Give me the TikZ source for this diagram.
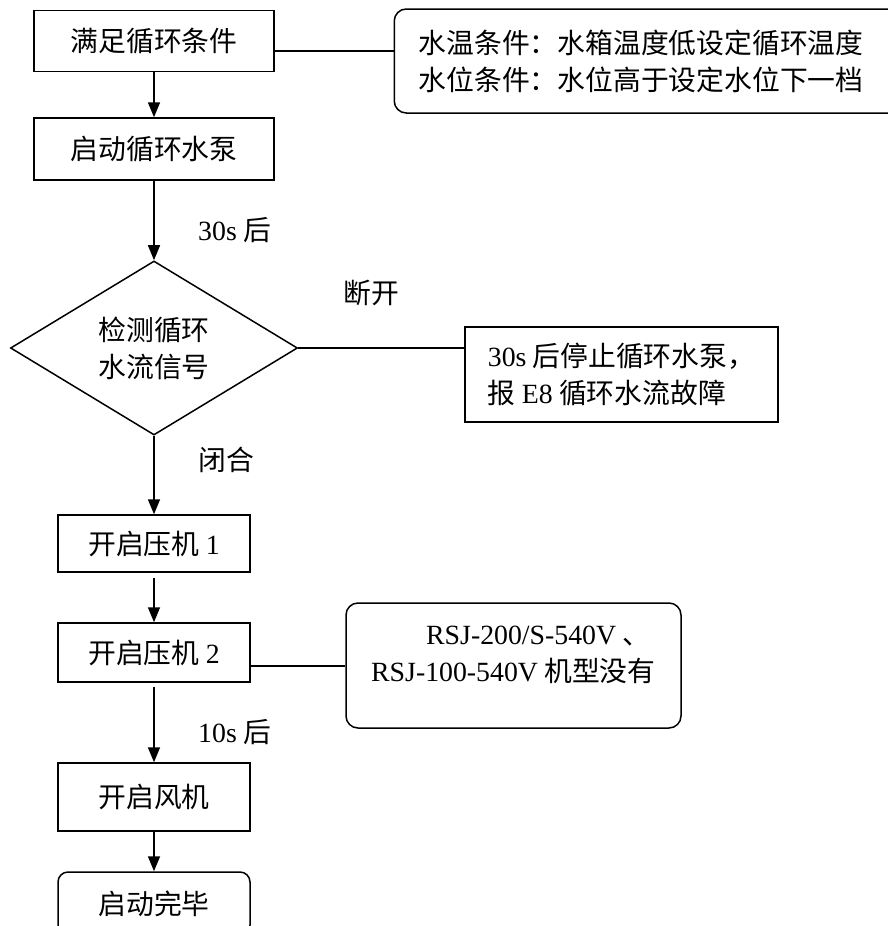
\documentclass[tikz,border=0pt]{standalone}
\usepackage{fontspec}
\setmainfont{Noto Sans CJK SC}
\newfontfamily\lat{Liberation Serif}
\usetikzlibrary{shapes.geometric,arrows.meta}
\begin{document}
\begin{tikzpicture}[x=1pt,y=-1pt,
  font=\fontsize{27.8}{37}\selectfont,
  box/.style={draw,line width=1.5pt,inner sep=0pt},
  rbox/.style={box,rounded corners=12pt},
  arr/.style={-{Triangle[length=15pt,width=12pt]},line width=1.5pt},
  conn/.style={line width=1.5pt},
  lbl/.style={anchor=west,inner sep=0pt}]
\clip (0,0) rectangle (888,926);
\fill[white] (0,0) rectangle (888,926);
% main column
\node[box,minimum width=240pt,minimum height=61pt] (b1) at (154,41) {满足循环条件};
\node[box,minimum width=240pt,minimum height=62pt] (b2) at (154,149) {启动循环水泵};
\node[box,diamond,minimum width=287pt,minimum height=166pt,align=center] (d) at (154,348) {检测循环\\水流信号};
\node[box,minimum width=192pt,minimum height=57pt] (c1) at (154,543.5) {开启压机 {\lat 1}};
\node[box,minimum width=192pt,minimum height=59pt] (c2) at (154,652.5) {开启压机 {\lat 2}};
\node[box,minimum width=192pt,minimum height=68pt] (f) at (154,797) {开启风机};
\node[rbox,rounded corners=10pt,minimum width=192pt,minimum height=63pt] (g) at (154,903.5) {启动完毕};
% side notes
\node[rbox,anchor=west,inner xsep=24.5pt,text width=470pt,align=left,minimum height=104pt] (n1) at (393.5,61)
  {水温条件：水箱温度低设定循环温度\\水位条件：水位高于设定水位下一档};
\node[box,minimum width=313pt,minimum height=95pt,align=left] (e) at (621.5,374.5)
  {{\lat 30s} 后停止循环水泵，\\报 {\lat E8} 循环水流故障};
\node[rbox,minimum width=335pt,minimum height=125pt] (n2) at (513.5,665.5) {};
\node[inner sep=0pt,align=left,anchor=west] (n2t) at (371,655)
  {\hspace*{55pt}{\lat RSJ-200/S-540V} 、\\{\lat RSJ-100-540V} 机型没有};
% labels
\node[lbl] (l1) at (198,230) {{\lat 30s} 后};
\node[lbl] (l2) at (343,293) {断开};
\node[lbl] (l3) at (198,460) {闭合};
\node[lbl] (l4) at (198,732) {{\lat 10s} 后};
% arrows
\draw[arr] (b1.south) -- (b2.north);
\draw[arr] (b2.south) -- (d.north);
\draw[arr] (d.south) -- (c1.north);
\draw[arr,shorten <=5pt] (c1.south) -- (c2.north);
\draw[arr,shorten <=4pt] (c2.south) -- (f.north);
\draw[arr] (f.south) -- (g.north);
% connectors
\draw[conn] (b1.east |- 0,51) -- (n1.west |- 0,51);
\draw[conn] (d.east) -- (e.west |- d.east);
\draw[conn] (c2.east |- 0,666) -- (n2.west |- 0,666);
\end{tikzpicture}
\end{document}
